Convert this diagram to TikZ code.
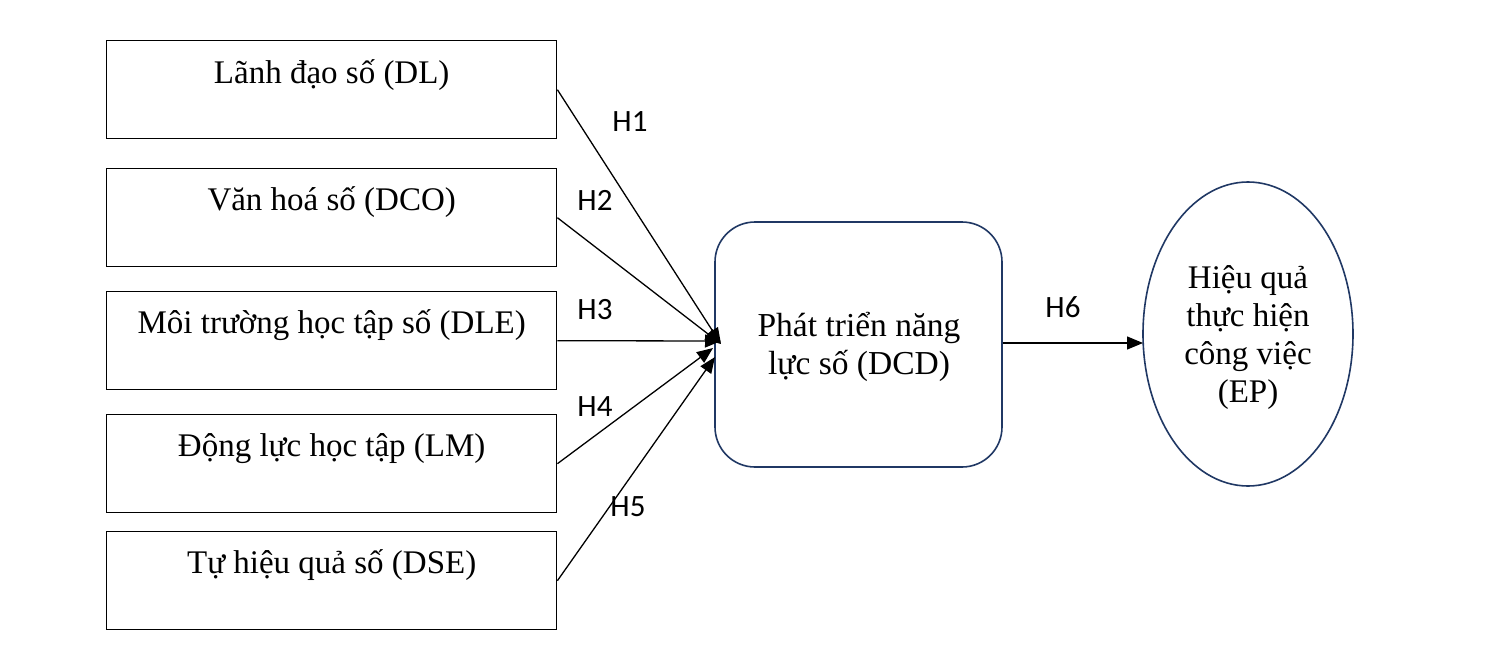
\documentclass[tikz,border=0pt]{standalone}
\usepackage{fontspec}
\setmainfont{Liberation Serif}
\newfontfamily\lblfont{Carlito}
\usetikzlibrary{arrows.meta,shapes.geometric,calc}
\definecolor{navyline}{RGB}{32,56,100}
\begin{document}
\begin{tikzpicture}[x=1pt,y=-1pt]
\tikzset{
 inbox/.style={draw, line width=1.4pt, minimum width=450pt, minimum height=98pt, anchor=north west, inner sep=0pt},
 boxtext/.style={font=\fontsize{33}{38}\selectfont, anchor=center, inner sep=0pt},
 hyp/.style={font=\lblfont\fontsize{31}{36}\selectfont, inner sep=0pt},
 arr/.style={line width=1.3pt, -{Triangle[length=16pt,width=13pt]}},
}
\useasboundingbox[fill=white] (0,0) rectangle (1500,667);
% left boxes
\node[inbox] (b1) at (106,40) {};
\node[inbox] (b2) at (106,168) {};
\node[inbox] (b3) at (106,291) {};
\node[inbox] (b4) at (106,414) {};
\node[inbox] (b5) at (106,531) {};
\node[boxtext] (t1) at ($(b1.north)+(0,35)$) {Lãnh đạo số (DL)};
\node[boxtext] (t2) at ($(b2.north)+(0,34)$) {Văn hoá số (DCO)};
\node[boxtext] (t3) at ($(b3.north)+(0,34)$) {Môi trường học tập số (DLE)};
\node[boxtext] (t4) at ($(b4.north)+(0,35)$) {Động lực học tập (LM)};
\node[boxtext] (t5) at ($(b5.north)+(0,34)$) {Tự hiệu quả số (DSE)};
% central box
\node[draw=navyline, line width=1.6pt, rounded corners=40pt, minimum width=287pt, minimum height=245pt, inner sep=0pt] (dcd) at (858.5,344.5) {};
\node[font=\fontsize{33.5}{38.5}\selectfont, align=center, inner sep=0pt] (dcdt) at (859,347) {Phát triển năng\\lực số (DCD)};
% ellipse
\node[draw=navyline, line width=1.6pt, ellipse, minimum width=210pt, minimum height=304pt, inner sep=0pt] (ep) at (1248,334) {};
\node[font=\fontsize{33}{38}\selectfont, align=center, inner sep=0pt] (ept) at (1248,338) {Hiệu quả\\thực hiện\\công việc\\(EP)};
% arrow tips
\coordinate (p1) at (721,344);
\coordinate (p2) at (721,344);
\coordinate (p3) at (721,341);
\coordinate (p4) at (713,348);
\coordinate (p5) at (715,357);
\coordinate (p6) at (1143,343);
\draw[arr] (b1.east) -- (p1);
\draw[arr] (b2.east) -- (p2);
\draw[arr] (b3.east) -- (p3);
\draw[arr] (b4.east) -- (p4);
\draw[arr] (b5.east) -- (p5);
\draw[arr] (dcd.east |- p6) -- (p6);
% labels
\node[hyp] (h1) at (630,122) {H1};
\node[hyp] (h2) at (595,200) {H2};
\node[hyp] (h3) at (595,310) {H3};
\node[hyp] (h4) at (595,407) {H4};
\node[hyp] (h5) at (628,507) {H5};
\node[hyp] (h6) at (1063,307) {H6};
\end{tikzpicture}
\end{document}
